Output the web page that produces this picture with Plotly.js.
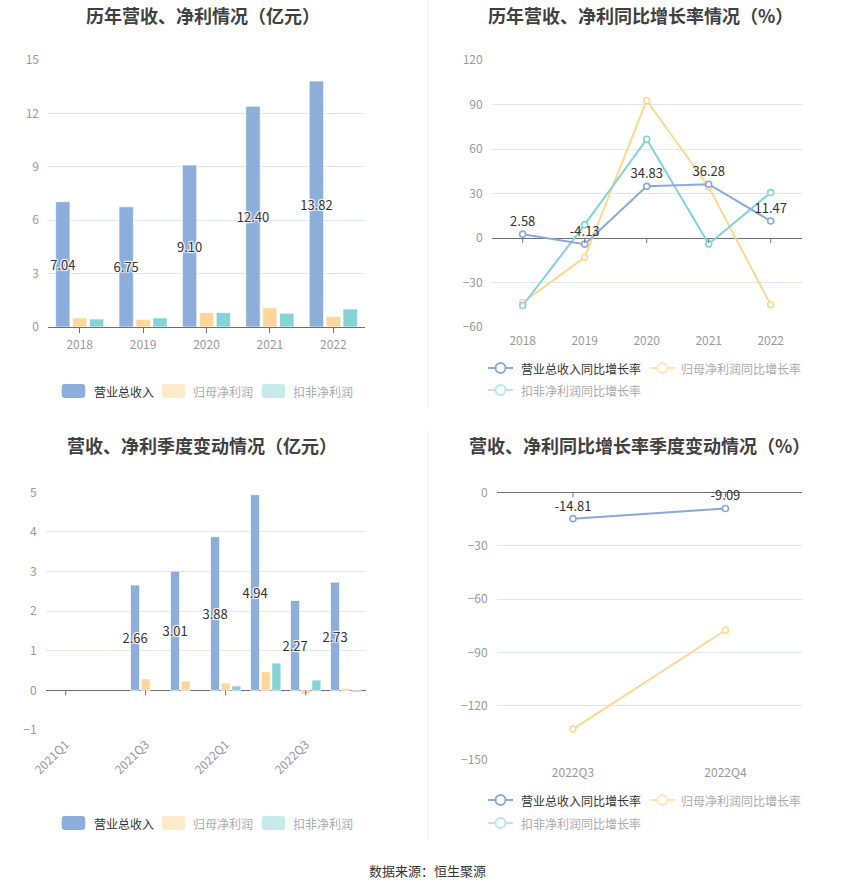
<!DOCTYPE html>
<html>
<head>
<meta charset="utf-8">
<script src="https://cdn.plot.ly/plotly-3.0.1.min.js"></script>
<style>html,body{margin:0;padding:0;background:#fff;}#chart{width:850px;height:891px;}</style>
</head>
<body>
<div id="chart"></div>
<script>
// ---------- DATA ----------
const years = ['2018', '2019', '2020', '2021', '2022'];
const revenue = [7.04, 6.75, 9.10, 12.40, 13.82];
const netProfit = [0.51, 0.43, 0.81, 1.09, 0.60];
const deductedProfit = [0.45, 0.51, 0.81, 0.77, 1.01];

const revenueYoY = [2.58, -4.13, 34.83, 36.28, 11.47];
const netProfitYoY = [-43.6, -13.0, 92.7, 34.4, -45.0];
const deductedYoY = [-45.5, 9.0, 66.6, -4.0, 30.6];

const quarters = ['2021Q1', '2021Q2', '2021Q3', '2021Q4', '2022Q1', '2022Q2', '2022Q3', '2022Q4'];
const qRevenue = [null, null, 2.66, 3.01, 3.88, 4.94, 2.27, 2.73];
const qNetProfit = [null, null, 0.29, 0.235, 0.185, 0.47, -0.09, 0.05];
const qDeducted = [null, null, null, null, 0.11, 0.69, 0.26, -0.04];

const yoyQuarters = ['2022Q3', '2022Q4'];
const qRevenueYoY = [-14.81, -9.09];
const qNetProfitYoY = [-133.0, -77.5];
const qDeductedYoY = [null, null];

const barLegend = ['营业总收入', '归母净利润', '扣非净利润'];
const lineLegend = ['营业总收入同比增长率', '归母净利润同比增长率', '扣非净利润同比增长率'];
const titles = ['历年营收、净利情况（亿元）', '历年营收、净利同比增长率情况（%）', '营收、净利季度变动情况（亿元）', '营收、净利同比增长率季度变动情况（%）'];
const sourceText = '数据来源：恒生聚源';

// ---------- STYLE ----------
const W = 850, H = 891;
const FONT = '"Noto Sans CJK SC", "Noto Sans", sans-serif';
const C_BLUE = '#8DADDA', C_YEL = '#FFD699', C_CYAN = '#84D4D6';
const L_BLUE = '#8CA9DB', L_YEL = '#FFD78F', L_CYAN = '#7FD5D5';
const GRID = '#E0E6F1', AXIS = '#6E7079', TICKC = '#999';
const halo = '1px 1px 1px #fff, -1px -1px 1px #fff, 1px -1px 1px #fff, -1px 1px 1px #fff';

const px = x => x / W;
const py = y => 1 - y / H;
const dX = (a, b) => [px(a), px(b)];
const dY = (top, bottom) => [py(bottom), py(top)];

function barTrace(x, y, color, xa, ya, withText) {
  const t = {
    type: 'bar', x: x, y: y, xaxis: xa, yaxis: ya,
    marker: {color: color, line: {color: 'rgba(255,255,255,0.7)', width: 1}},
    hoverinfo: 'skip', showlegend: false
  };
  if (withText) {
    t.text = y.map(v => v == null ? '' : v.toFixed(2));
    t.textposition = 'inside';
    t.insidetextanchor = 'middle';
    t.constraintext = 'none';
    t.textangle = 0;
    t.textfont = {family: FONT, size: 13, color: '#333', shadow: halo};
  }
  return t;
}
function lineTrace(x, y, color, xa, ya, withText) {
  const t = {
    type: 'scatter', mode: withText ? 'lines+markers+text' : 'lines+markers',
    x: x, y: y, xaxis: xa, yaxis: ya,
    line: {color: color, width: 2},
    marker: {symbol: 'circle', size: 6, color: '#fff', line: {color: color, width: 1.6}},
    hoverinfo: 'skip', showlegend: false, cliponaxis: false
  };
  if (withText) {
    t.text = y.map(v => v == null ? '' : v.toFixed(2));
    t.textposition = 'top center';
    t.textfont = {family: FONT, size: 13, color: '#333'};
  }
  return t;
}

const data = [
  barTrace(years, revenue, C_BLUE, 'x', 'y', true),
  barTrace(years, netProfit, C_YEL, 'x', 'y', false),
  barTrace(years, deductedProfit, C_CYAN, 'x', 'y', false),
  lineTrace(years, netProfitYoY, L_YEL, 'x2', 'y2', false),
  lineTrace(years, deductedYoY, L_CYAN, 'x2', 'y2', false),
  lineTrace(years, revenueYoY, L_BLUE, 'x2', 'y2', true),
  barTrace(quarters, qRevenue, C_BLUE, 'x3', 'y3', true),
  barTrace(quarters, qNetProfit, C_YEL, 'x3', 'y3', false),
  barTrace(quarters, qDeducted, C_CYAN, 'x3', 'y3', false),
  lineTrace(yoyQuarters, qNetProfitYoY, L_YEL, 'x4', 'y4', false),
  lineTrace(yoyQuarters, qDeductedYoY, L_CYAN, 'x4', 'y4', false),
  lineTrace(yoyQuarters, qRevenueYoY, L_BLUE, 'x4', 'y4', true)
];

const tickFont = {family: FONT, size: 12, color: TICKC};
function yAxis(domain, range, dtick, anchor, zero) {
  return {
    domain: domain, range: range, dtick: dtick, anchor: anchor,
    showgrid: true, gridcolor: GRID, gridwidth: 1,
    zeroline: zero, zerolinecolor: AXIS, zerolinewidth: 1,
    showline: false, ticks: '', tickfont: tickFont, ticklabelstandoff: 8,
    fixedrange: true
  };
}
function xAxis(domain, anchor, cats, extra) {
  return Object.assign({
    domain: domain, anchor: anchor, type: 'category',
    categoryorder: 'array', categoryarray: cats, range: [-0.5, cats.length - 0.5],
    showgrid: false, zeroline: false, showline: false, ticks: '',
    tickfont: tickFont, fixedrange: true
  }, extra || {});
}

const layout = {
  width: W, height: H,
  margin: {l: 0, r: 0, t: 0, b: 0},
  paper_bgcolor: '#fff', plot_bgcolor: 'rgba(0,0,0,0)',
  font: {family: FONT},
  barmode: 'group', bargap: 0.2, bargroupgap: 0.15,
  showlegend: false,
  xaxis: xAxis(dX(48, 365), 'y', years, {showline: true, linecolor: AXIS, ticks: 'outside', ticklen: 5, tickcolor: AXIS, ticklabelstandoff: 2}),
  yaxis: yAxis(dY(60, 327), [0, 15], 3, 'x', false),
  xaxis2: xAxis(dX(491.7, 801.7), 'y2', years, {ticklabelstandoff: 5}),
  yaxis2: yAxis(dY(60, 327), [-60, 120], 30, 'x2', true),
  xaxis3: xAxis(dX(45.7, 365.7), 'y3', quarters, {tickvals: quarters.filter((q, i) => i % 2 === 0), tickangle: -45, ticklabelstandoff: 4}),
  yaxis3: yAxis(dY(492.3, 730), [-1, 5], 1, 'x3', true),
  xaxis4: xAxis(dX(496.7, 801.7), 'y4', yoyQuarters, {ticklabelstandoff: 5}),
  yaxis4: yAxis(dY(492.3, 759.3), [-150, 0], 30, 'x4', true),
  shapes: [],
  annotations: []
};

// ticks on zero lines (derived from categories)
function zeroTicks(cats, allCats, xref, yref) {
  cats.forEach(c => {
    const idx = allCats.indexOf(c);
    layout.shapes.push({type: 'line', xref: xref, yref: yref, x0: idx, x1: idx,
      ysizemode: 'pixel', yanchor: 0, y0: 0, y1: -5, line: {color: AXIS, width: 1}});
  });
}
zeroTicks(years, years, 'x2', 'y2');
zeroTicks(quarters.filter((q, i) => i % 2 === 0), quarters, 'x3', 'y3');
zeroTicks(yoyQuarters, yoyQuarters, 'x4', 'y4');

// dividers
layout.shapes.push({type: 'line', xref: 'paper', yref: 'paper', x0: px(428), x1: px(428), y0: py(0), y1: py(408), line: {color: '#EEEEEE', width: 1}});
layout.shapes.push({type: 'line', xref: 'paper', yref: 'paper', x0: px(428), x1: px(428), y0: py(430), y1: py(840), line: {color: '#EEEEEE', width: 1}});

// titles
const titlePos = [[203, 15], [640, 15], [202, 445], [639, 445]];
titles.forEach((t, i) => {
  layout.annotations.push({text: t, xref: 'paper', yref: 'paper', x: px(titlePos[i][0]), y: py(titlePos[i][1]),
    xanchor: 'center', yanchor: 'middle', showarrow: false,
    font: {family: FONT, size: 18, color: '#404040', weight: 'bold'}});
});

// rounded rect path in paper coords
function roundRect(x0, y0, x1, y1, r) {
  const X = v => px(v), Y = v => py(v);
  return `M${X(x0 + r)},${Y(y0)} L${X(x1 - r)},${Y(y0)} Q${X(x1)},${Y(y0)} ${X(x1)},${Y(y0 + r)} ` +
    `L${X(x1)},${Y(y1 - r)} Q${X(x1)},${Y(y1)} ${X(x1 - r)},${Y(y1)} L${X(x0 + r)},${Y(y1)} ` +
    `Q${X(x0)},${Y(y1)} ${X(x0)},${Y(y1 - r)} L${X(x0)},${Y(y0 + r)} Q${X(x0)},${Y(y0)} ${X(x0 + r)},${Y(y0)} Z`;
}
const barLegendColors = ['#8DADDA', '#FFEBCC', '#C4EAEA'];
const legendTextColors = ['#333', '#AAAAAA', '#AAAAAA'];
function barLegendAt(yc) {
  const sx = [61.7, 161.7, 261.7], tx = [91.7, 191, 290.7];
  barLegend.forEach((name, i) => {
    layout.shapes.push({type: 'path', xref: 'paper', yref: 'paper', path: roundRect(sx[i], yc - 7, sx[i] + 23.5, yc + 7, 3),
      fillcolor: barLegendColors[i], line: {width: 0}});
    layout.annotations.push({text: name, xref: 'paper', yref: 'paper', x: px(tx[i]), y: py(yc),
      xanchor: 'left', yanchor: 'middle', showarrow: false, font: {family: FONT, size: 12, color: legendTextColors[i]}});
  });
}
barLegendAt(391);
barLegendAt(823);

const lineLegendColors = ['#8CA9DB', '#FFE3B5', '#B8E7E7'];
function lineLegendAt(y1, y2) {
  const pos = [[488, y1, 519], [650, y1, 679], [488, y2, 519]];
  lineLegend.forEach((name, i) => {
    const [lx, ly, tx] = pos[i];
    const col = lineLegendColors[i];
    layout.shapes.push({type: 'line', xref: 'paper', yref: 'paper', x0: px(lx), x1: px(lx + 25), y0: py(ly), y1: py(ly), line: {color: col, width: 2}});
    layout.shapes.push({type: 'circle', xref: 'paper', yref: 'paper', x0: px(lx + 7.5), x1: px(lx + 17.5), y0: py(ly + 5), y1: py(ly - 5),
      fillcolor: '#fff', line: {color: col, width: 2}});
    layout.annotations.push({text: name, xref: 'paper', yref: 'paper', x: px(tx), y: py(ly),
      xanchor: 'left', yanchor: 'middle', showarrow: false, font: {family: FONT, size: 12, color: legendTextColors[i]}});
  });
}
lineLegendAt(368, 390);
lineLegendAt(800, 823);

// source
layout.annotations.push({text: sourceText, xref: 'paper', yref: 'paper', x: px(427), y: py(870),
  xanchor: 'center', yanchor: 'middle', showarrow: false, font: {family: FONT, size: 13, color: '#333'}});

Plotly.newPlot('chart', data, layout, {staticPlot: true, displayModeBar: false});
</script>
</body>
</html>
